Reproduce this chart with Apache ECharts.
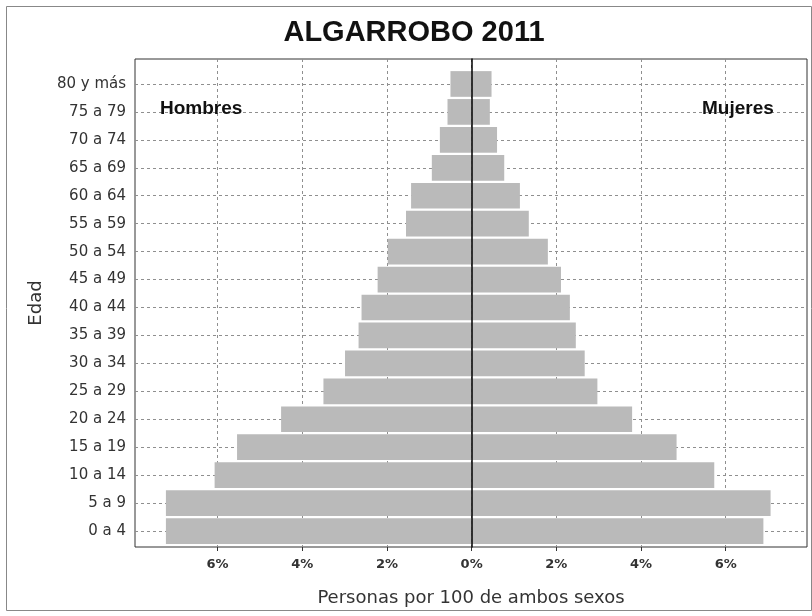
<!DOCTYPE html>
<html>
<head>
<meta charset="utf-8">
<script src="https://cdn.jsdelivr.net/npm/echarts@6/dist/echarts.min.js"></script>
<style>html,body{margin:0;padding:0;background:#fff;}#c{width:812px;height:616px;}</style>
</head>
<body>
<div id="c"></div>
<script>
const categories = ['0 a 4','5 a 9','10 a 14','15 a 19','20 a 24','25 a 29','30 a 34','35 a 39','40 a 44','45 a 49','50 a 54','55 a 59','60 a 64','65 a 69','70 a 74','75 a 79','80 y más'];
const hombres = [7.22,7.22,6.07,5.54,4.50,3.50,2.99,2.67,2.60,2.22,1.98,1.55,1.43,0.94,0.75,0.57,0.50];
const mujeres = [6.89,7.06,5.73,4.84,3.79,2.97,2.67,2.46,2.32,2.11,1.80,1.35,1.14,0.77,0.60,0.43,0.47];
const xTicks = [-6,-4,-2,0,2,4,6];
const xMin = -7.95, xMax = 7.92;

const chart = echarts.init(document.getElementById('c'));
const dash = {color:'#8f8f8f', width:1, type:[3,3]};
chart.setOption({
  animation:false,
  backgroundColor:'#fff',
  title:{text:'ALGARROBO 2011', left:409, textAlign:'center', top:13,
    textStyle:{fontSize:29, fontWeight:'bold', fontFamily:'Liberation Sans', color:'#111'}},
  graphic:[
    {type:'rect', shape:{x:6.5,y:6.5,width:805,height:604}, style:{fill:'none',stroke:'#888',lineWidth:1}, z:-1},
    {type:'text', style:{text:'Hombres', x:160, y:109, fill:'#111', fontSize:19, fontWeight:'bold', fontFamily:'Liberation Sans', verticalAlign:'middle'}, z:10},
    {type:'text', style:{text:'Mujeres', x:702, y:109, fill:'#111', fontSize:19, fontWeight:'bold', fontFamily:'Liberation Sans', verticalAlign:'middle'}, z:10}
  ],
  grid:[
    {left:135, right:5, top:59, bottom:69, show:true, borderColor:'#333', borderWidth:1, backgroundColor:'transparent'},
    {left:135, right:5, top:70, bottom:71}
  ],
  xAxis:[
    {type:'value', gridIndex:0, min:xMin, max:xMax, position:'bottom',
     axisLine:{show:false},
     axisTick:{show:true, customValues:xTicks, length:4, lineStyle:{color:'#333'}},
     axisLabel:{customValues:xTicks, formatter:v=>Math.abs(v)+'%', fontFamily:'DejaVu Sans', fontWeight:'bold', fontSize:13, color:'#333', margin:11},
     splitLine:{show:true, lineStyle:dash},
     name:'Personas por 100 de ambos sexos', nameLocation:'middle', nameGap:42,
     nameTextStyle:{fontFamily:'DejaVu Sans', fontSize:18, color:'#333'}},
    {type:'value', gridIndex:1, min:xMin, max:xMax, show:false}
  ],
  yAxis:[
    {type:'value', gridIndex:0, min:0, max:1, z:5,
     axisLine:{show:true, onZero:true, lineStyle:{color:'#000', width:1.5}},
     axisTick:{show:false}, axisLabel:{show:false}, splitLine:{show:false},
     name:'Edad', nameLocation:'middle', nameGap:90,
     nameTextStyle:{fontFamily:'DejaVu Sans', fontSize:18, color:'#333'}},
    {type:'category', gridIndex:1, data:categories,
     axisLine:{show:false}, axisTick:{show:false},
     axisLabel:{fontFamily:'DejaVu Sans', fontSize:15, color:'#333', margin:9},
     splitLine:{show:true, alignWithLabel:true, lineStyle:dash}}
  ],
  series:[
    {name:'Hombres', type:'bar', xAxisIndex:1, yAxisIndex:1, data:hombres.map(v=>-v),
     barGap:'-100%', barCategoryGap:'8%', itemStyle:{color:'#bababa'}, silent:true},
    {name:'Mujeres', type:'bar', xAxisIndex:1, yAxisIndex:1, data:mujeres,
     barGap:'-100%', barCategoryGap:'8%', itemStyle:{color:'#bababa'}, silent:true}
  ]
});
</script>
</body>
</html>
